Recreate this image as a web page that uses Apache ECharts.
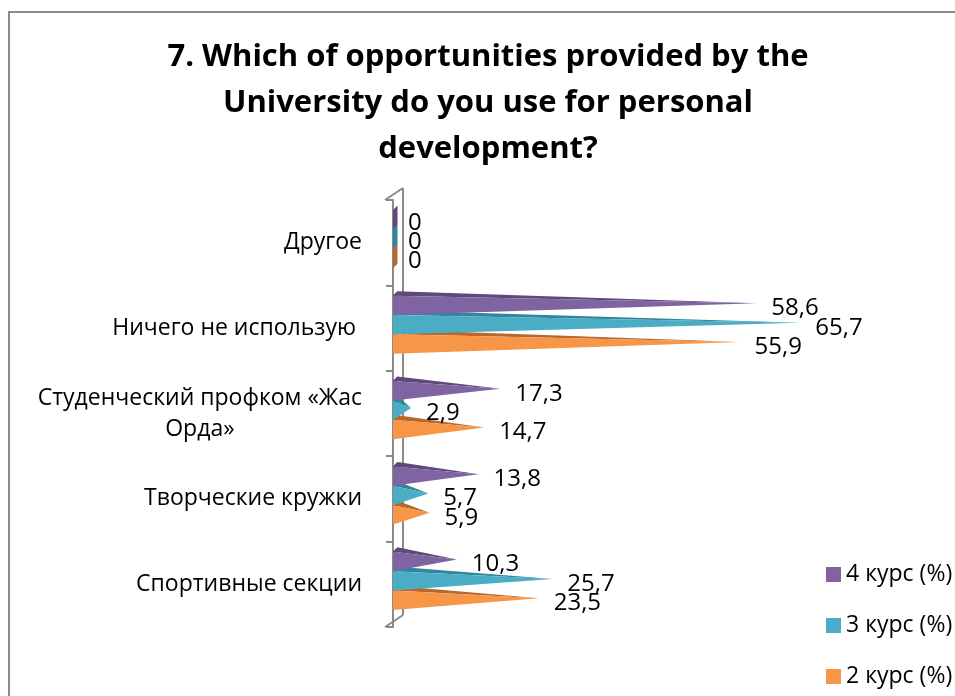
<!DOCTYPE html>
<html>
<head>
<meta charset="utf-8">
<script src="https://cdn.jsdelivr.net/npm/echarts@6/dist/echarts.min.js"></script>
<style>
  html, body { margin: 0; padding: 0; background: #fff; }
  #chart { width: 955px; height: 696px; }
</style>
</head>
<body>
<div id="chart"></div>
<script>
// Survey question: which university opportunities students use (%, by course)
const categories = [
  'Другое',
  'Ничего не использую ',
  'Студенческий профком «Жас\nОрда»',
  'Творческие кружки',
  'Спортивные секции'
];
const seriesNames = ['4 курс (%)', '3 курс (%)', '2 курс (%)'];
const course4 = [0, 58.6, 17.3, 13.8, 10.3];
const course3 = [0, 65.7, 2.9, 5.7, 25.7];
const course2 = [0, 55.9, 14.7, 5.9, 23.5];

const seriesValues = [course4, course3, course2];
const faceColors = ['#8064a2', '#4bacc6', '#f79646'];
const shadeColors = ['#5f497a', '#31859c', '#b8682c'];
const FONT = "'Open Sans', 'Noto Sans', sans-serif";

const fmt = v => String(v).replace('.', ',');

// Pyramid-shaped bar: dark side/top faces and a lit front face tapering to the value
function pyramidRenderer(s) {
  return function (params, api) {
    const cat = api.value(0);
    const v = api.value(1);
    const base = api.coord([0, cat]);
    const tip = api.coord([v, cat]);
    const band = api.size([0, 1])[1];
    const bandTop = base[1] - band / 2;
    const slot = band * 0.2267;
    const yT = bandTop + band * 0.12 + s * slot;
    const yB = yT + slot;
    const x0 = base[0];
    const xv = tip[0];
    const d = 4.5;
    const yM = (yT + yB) / 2 - 2;
    return {
      type: 'group',
      children: [
        { type: 'polygon', shape: { points: [[x0, yT], [x0 + d, yT - d], [x0 + d, yB - d], [x0, yB]] },
          style: { fill: shadeColors[s] } },
        { type: 'polygon', shape: { points: [[x0, yT], [x0 + d, yT - d], [xv, yM]] },
          style: { fill: shadeColors[s] } },
        { type: 'polygon', shape: { points: [[x0, yT], [x0, yB], [xv, yM]] },
          style: { fill: faceColors[s] } },
        { type: 'text',
          style: { x: xv + 15, y: (yT + yB) / 2 + 3, text: fmt(v), fill: '#000',
                   font: '24px ' + FONT, align: 'left', verticalAlign: 'middle',
                   textAlign: 'left', textVerticalAlign: 'middle' } }
      ]
    };
  };
}

// Back wall of the 3D category axis
function wallRenderer(params, api) {
  const n = categories.length;
  const band = api.size([0, 1])[1];
  const first = api.coord([0, 0]);
  const last = api.coord([0, n - 1]);
  const yTop = first[1] - band / 2;
  const yBot = last[1] + band / 2;
  const fx = first[0] - 8;
  const bx = first[0] + 10;
  const dy = 12;
  const st = { stroke: '#8a8a8a', lineWidth: 2, fill: null };
  return {
    type: 'group',
    children: [
      { type: 'line', shape: { x1: bx, y1: yTop - dy, x2: bx, y2: yBot - dy }, style: st },
      { type: 'line', shape: { x1: fx, y1: yTop, x2: bx, y2: yTop - dy }, style: st },
      { type: 'line', shape: { x1: fx, y1: yBot, x2: bx, y2: yBot - dy }, style: st }
    ]
  };
}

const chart = echarts.init(document.getElementById('chart'), null, { renderer: 'canvas' });

const series = [
  {
    name: 'wall', type: 'custom', z: 1, silent: true, clip: false,
    renderItem: wallRenderer, encode: { x: 0, y: 1 }, data: [[0, 0]]
  }
].concat(seriesNames.map((name, s) => ({
  name: name,
  type: 'custom',
  z: 2 + (2 - s),
  clip: false,
  itemStyle: { color: faceColors[s] },
  renderItem: pyramidRenderer(s),
  encode: { x: 1, y: 0 },
  data: seriesValues[s].map((v, i) => [i, v])
})));

chart.setOption({
  animation: false,
  backgroundColor: '#fff',
  title: {
    text: '7. Which of opportunities provided by the\nUniversity do you use for personal\ndevelopment?',
    left: 488, top: 34, padding: 0, textAlign: 'center',
    textStyle: { fontFamily: FONT, fontWeight: 'bold', fontSize: 31, lineHeight: 46, color: '#000' }
  },
  legend: {
    data: seriesNames,
    orient: 'vertical',
    left: 826, top: 563, padding: 0,
    itemWidth: 15, itemHeight: 15, itemGap: 28,
    icon: 'rect',
    textStyle: { fontFamily: FONT, fontSize: 23, lineHeight: 23, color: '#000' }
  },
  graphic: [
    { type: 'rect', z: -10, silent: true,
      shape: { x: 9, y: 12, width: 1000, height: 1000 },
      style: { fill: null, stroke: '#8c8c8c', lineWidth: 2 } }
  ],
  grid: { left: 393, right: 4, top: 200, bottom: 69, containLabel: false },
  xAxis: {
    type: 'value', min: 0, max: 90,
    show: false
  },
  yAxis: {
    type: 'category',
    inverse: true,
    data: categories,
    offset: 8,
    axisLine: { show: true, lineStyle: { color: '#8a8a8a', width: 2 } },
    axisTick: { show: true, length: 7, lineStyle: { color: '#8a8a8a', width: 2 } },
    axisLabel: {
      margin: 23,
      color: '#000',
      fontFamily: FONT,
      fontSize: 23,
      formatter: v => v.split('\n').map(l => '{c|' + l + '}').join('\n'),
      rich: { c: { align: 'center', fontFamily: FONT, fontSize: 23, lineHeight: 31, color: '#000' } }
    },
    splitLine: { show: false }
  },
  series: series
});
</script>
</body>
</html>
